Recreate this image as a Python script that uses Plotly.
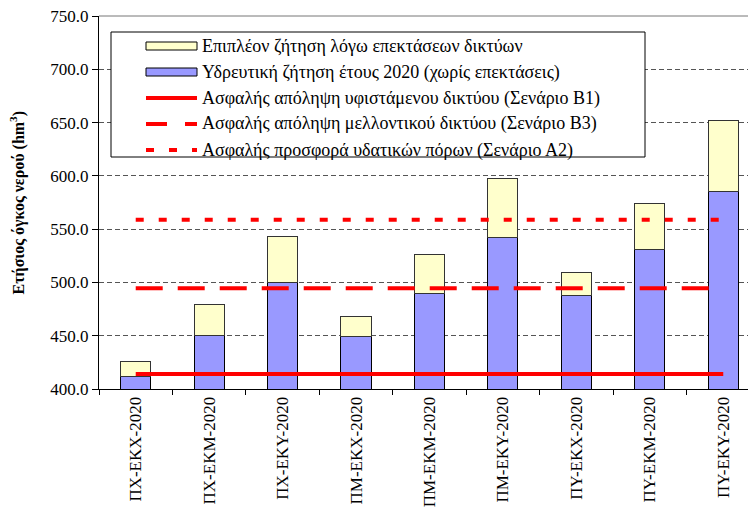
import plotly.graph_objects as go

scenarios = ["ΠΧ-ΕΚΧ-2020", "ΠΧ-ΕΚΜ-2020", "ΠΧ-ΕΚΥ-2020",
             "ΠΜ-ΕΚΧ-2020", "ΠΜ-ΕΚΜ-2020", "ΠΜ-ΕΚΥ-2020",
             "ΠΥ-ΕΚΧ-2020", "ΠΥ-ΕΚΜ-2020", "ΠΥ-ΕΚΥ-2020"]

# demand 2020 without extensions, and total with extensions (hm3)
base_demand = [411.3, 450.3, 499.7, 449.0, 490.0, 542.0, 488.2, 530.7, 585.4]
total_demand = [425.9, 479.7, 543.2, 468.5, 526.6, 597.3, 509.0, 574.0, 651.6]
extra_demand = [round(t - b, 1) for t, b in zip(total_demand, base_demand)]

# safe yields (hm3)
yield_b1 = 414.0
yield_b3 = 494.5
supply_a2 = 558.8

FONT = "Liberation Serif, Times New Roman, serif"
BLUE = "#9999FF"
YELLOW = "#FFFFCC"
RED = "#FF0000"

# plot area in window pixels, used for the hand-made legend
L, T, W, H = 99, 16, 649, 373


def px(x, y):
    return (x - L) / W, 1 - (y - T) / H


fig = go.Figure()

fig.add_trace(go.Bar(
    x=scenarios, y=base_demand,
    name="Υδρευτική ζήτηση έτους 2020 (χωρίς επεκτάσεις)",
    marker=dict(color=BLUE, line=dict(color="#000000", width=1)),
    width=0.41, showlegend=False,
))
fig.add_trace(go.Bar(
    x=scenarios, y=extra_demand,
    name="Επιπλέον ζήτηση λόγω επεκτάσεων δικτύων",
    marker=dict(color=YELLOW, line=dict(color="#333333", width=1)),
    width=0.41, showlegend=False,
))

lines = [
    (yield_b1, "solid", "Ασφαλής απόληψη υφιστάμενου δικτύου (Σενάριο Β1)"),
    (yield_b3, "27px,15px", "Ασφαλής απόληψη μελλοντικού δικτύου (Σενάριο Β3)"),
    (supply_a2, "8px,15px", "Ασφαλής προσφορά υδατικών πόρων (Σενάριο Α2)"),
]
for val, dash, label in lines:
    fig.add_trace(go.Scatter(
        x=scenarios, y=[val] * len(scenarios), mode="lines", name=label,
        line=dict(color=RED, width=4, dash=dash), showlegend=False,
    ))

fig.update_layout(
    width=748, height=517,
    margin=dict(l=L, r=0, t=T, b=517 - T - H),
    paper_bgcolor="white", plot_bgcolor="white",
    barmode="stack",
    font=dict(family=FONT, size=17, color="black"),
)
fig.update_xaxes(
    range=[-0.5, 8.337], tickangle=-90, showline=True, linecolor="black",
    ticks="outside", ticklen=5, tickcolor="black", tickson="boundaries",
    showgrid=False, automargin=False, tickfont=dict(size=17),
)
fig.update_yaxes(
    range=[400, 750], dtick=50, tickformat=".1f",
    showline=True, linecolor="black", ticks="outside", ticklen=6,
    tickcolor="black", showgrid=True, gridcolor="#555555",
    griddash="5px,3px", automargin=False, tickfont=dict(size=17),
    ticklabeloverflow="allow",
)
fig.add_annotation(
    text="Ετήσιος όγκος νερού (hm<sup>3</sup>)", textangle=-90,
    xref="paper", yref="paper", x=px(18, 0)[0], y=0.5,
    xanchor="center", yanchor="middle", showarrow=False,
    font=dict(family=FONT, size=16, weight="bold"),
)
# solid top border of the plot area
fig.add_shape(type="line", xref="paper", yref="paper", x0=0, x1=1, y0=1, y1=1,
              line=dict(color="#777777", width=1))

# legend box drawn by hand (wide swatches like the original)
bx0, by0 = px(111, 32)
bx1, by1 = px(645, 157)
fig.add_shape(type="rect", xref="paper", yref="paper",
              x0=bx0, y0=by0, x1=bx1, y1=by1,
              line=dict(color="black", width=1), fillcolor="white")

legend_items = [
    ("bar", YELLOW, "Επιπλέον ζήτηση λόγω επεκτάσεων δικτύων"),
    ("bar", BLUE, "Υδρευτική ζήτηση έτους 2020 (χωρίς επεκτάσεις)"),
    ("solid", RED, lines[0][2]),
    ("21px,18px", RED, lines[1][2]),
    ("8px,15px", RED, lines[2][2]),
]
for i, (kind, color, label) in enumerate(legend_items):
    yc = 46 + i * 26
    if kind == "bar":
        x0, y0 = px(146, yc - 4)
        x1, y1 = px(197, yc + 4)
        fig.add_shape(type="rect", xref="paper", yref="paper",
                      x0=x0, y0=y0, x1=x1, y1=y1,
                      line=dict(color="#000000", width=1), fillcolor=color)
    else:
        x0, y0 = px(146, yc)
        x1, _ = px(197, yc)
        fig.add_shape(type="line", xref="paper", yref="paper",
                      x0=x0, y0=y0, x1=x1, y1=y0,
                      line=dict(color=color, width=4, dash=kind))
    tx, ty = px(200, yc)
    fig.add_annotation(text=label, xref="paper", yref="paper", x=tx, y=ty,
                       xanchor="left", yanchor="middle", showarrow=False,
                       font=dict(family=FONT, size=18))

# drop the default page margin so the figure sits at the window corner
fig.write_html("out.html", config={"displayModeBar": False},
               post_script="document.body.style.margin='0';")
